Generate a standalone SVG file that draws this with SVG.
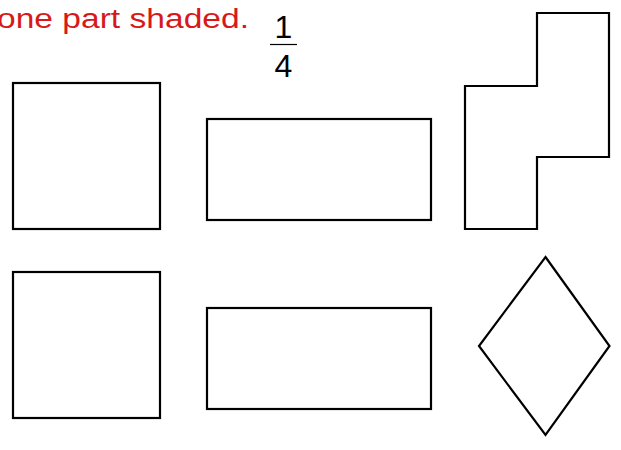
<svg xmlns="http://www.w3.org/2000/svg" width="621" height="450" viewBox="0 0 621 450">
<style>
.s{fill:#fff;stroke:#000;stroke-width:2.2;stroke-linejoin:miter}
.t{font-family:"Liberation Sans",Arial,sans-serif;}
</style>
<rect width="621" height="450" fill="#fff"/>
<text class="t" x="-3" y="28" font-size="27" fill="#d7191c" textLength="252" lengthAdjust="spacingAndGlyphs">one part shaded.</text>
<g id="fraction">
<text class="t" x="283.5" y="38" text-anchor="middle" font-size="32" fill="#000">1</text>
<line x1="270" y1="44.5" x2="297" y2="44.5" stroke="#000" stroke-width="1.2"/>
<text class="t" x="283.5" y="77" text-anchor="middle" font-size="32" fill="#000">4</text>
</g>
<g id="square1"><rect class="s" x="13" y="83" width="147" height="146"/></g>
<g id="rect1"><rect class="s" x="207" y="119" width="224" height="101"/></g>
<g id="lshape"><path class="s" d="M537,13 L609,13 L609,157 L537,157 L537,229 L465,229 L465,86 L537,86 Z"/></g>
<g id="square2"><rect class="s" x="13" y="272" width="147" height="146"/></g>
<g id="rect2"><rect class="s" x="207" y="308" width="224" height="101"/></g>
<g id="diamond"><path class="s" d="M545.5,257 L609.5,346 L545.5,435 L479,346 Z"/></g>
<g id="connectors"></g>
</svg>
